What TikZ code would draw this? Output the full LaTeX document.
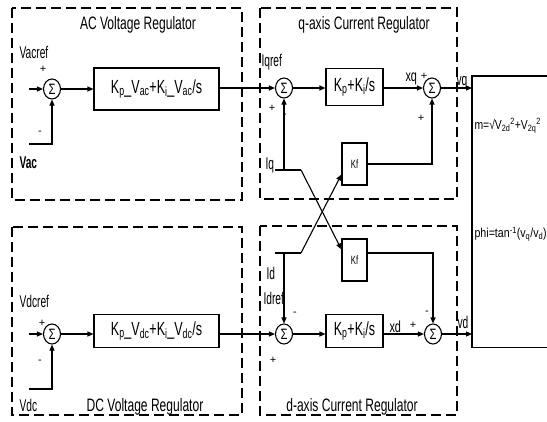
\documentclass[tikz,border=0pt]{standalone}
\usepackage{fontspec}
\usepackage{graphicx}
\setmainfont{Liberation Sans}
\usetikzlibrary{arrows.meta,calc,shapes.geometric}
\newcommand{\cnd}[2]{\scalebox{#1}[1]{#2}}
\begin{document}
\begin{tikzpicture}[x=1pt,y=-1pt,
  line width=1.1pt,
  arr/.style={-{Triangle[length=6pt,width=5pt]}},
  region/.style={draw,dash pattern=on 10pt off 5pt,line width=1.3pt},
  blk/.style={draw,rectangle,inner sep=0pt,font=\fontsize{19}{20}\selectfont},
  sumnode/.style={draw,ellipse,inner sep=0pt,minimum width=17pt,minimum height=20pt,font=\fontsize{15}{16}\selectfont},
  lbl/.style={inner sep=0pt,anchor=west,font=\fontsize{17}{18}\selectfont},
  sgn/.style={inner sep=0pt,font=\fontsize{11}{12}\selectfont},
  ttl/.style={inner sep=0pt,font=\fontsize{18}{19}\selectfont},
  kfbox/.style={draw,rectangle,inner sep=0pt,minimum width=25pt,minimum height=42pt,font=\fontsize{12}{13}\selectfont},
]
\useasboundingbox (0,0) rectangle (547,421);

% dashed regions
\draw[region] (12,8) rectangle (242,200);
\draw[region] (260,8) rectangle (457,199);
\draw[region] (12,227) rectangle (242,415);
\draw[region] (260,226) rectangle (457,415);

% titles
\node[ttl] (tac) at (138,25) {\cnd{0.67}{AC Voltage Regulator}};
\node[ttl] (tq) at (364,25) {\cnd{0.67}{q-axis Current Regulator}};
\node[ttl] (tdc) at (145,407) {\cnd{0.67}{DC Voltage Regulator}};
\node[ttl] (td) at (352,407) {\cnd{0.67}{d-axis Current Regulator}};

% blocks
\node[blk,minimum width=125pt,minimum height=42pt] (acpi) at (156.5,89)
  {\cnd{0.66}{K\textsubscript{p}\_V\textsubscript{ac}+K\textsubscript{i}\_V\textsubscript{ac}/s}};
\node[blk,minimum width=57pt,minimum height=37pt] (qpi) at (354.5,87)
  {\cnd{0.66}{K\textsubscript{p}+K\textsubscript{i}/s}};
\node[kfbox] (kfq) at (354.5,164) {\cnd{0.65}{Kf}};
\node[kfbox] (kfd) at (354.5,260) {\cnd{0.65}{Kf}};
\node[blk,minimum width=125pt,minimum height=33pt] (dcpi) at (156.5,331)
  {\cnd{0.66}{K\textsubscript{p}\_V\textsubscript{dc}+K\textsubscript{i}\_V\textsubscript{dc}/s}};
\node[blk,minimum width=57pt,minimum height=33pt] (dpi) at (354.5,331)
  {\cnd{0.66}{K\textsubscript{p}+K\textsubscript{i}/s}};

% summing junctions
\node[sumnode] (acs) at (52,89) {\cnd{0.75}{Σ}};
\node[sumnode] (qs1) at (284,88) {\cnd{0.75}{Σ}};
\node[sumnode] (qs2) at (432,88) {\cnd{0.75}{Σ}};
\node[sumnode] (dcs) at (52,334) {\cnd{0.75}{Σ}};
\node[sumnode] (ds1) at (284,334) {\cnd{0.75}{Σ}};
\node[sumnode] (ds2) at (433,334) {\cnd{0.75}{Σ}};

% converter box
\node[inner sep=0pt,minimum width=75pt,minimum height=270pt,anchor=north west] (conv) at (472,76) {};
\draw (conv.north east) -- (conv.north west) -- (conv.south west) -- (conv.south east);
\node[inner sep=0pt,anchor=west,font=\fontsize{13}{14}\selectfont] (mtxt) at (474,126)
  {\cnd{0.8}{m=√V\textsubscript{2d}\textsuperscript{2}+V\textsubscript{2q}\textsuperscript{2}}};
\node[inner sep=0pt,anchor=west,font=\fontsize{13}{14}\selectfont] (ptxt) at (474,234)
  {\cnd{0.82}{phi=tan\textsuperscript{-1}(v\textsubscript{q}/v\textsubscript{d})}};

% labels
\node[lbl] (lvacref) at (19,52) {\cnd{0.6}{Vacref}};
\node[sgn] (p1) at (43,69) {+};
\node[sgn] (m1) at (40,133) {-};
\node[lbl,font=\fontsize{17}{18}\selectfont\bfseries] (lvac) at (19,163) {\cnd{0.6}{Vac}};
\node[lbl] (liqref) at (261,62) {\cnd{0.6}{Iqref}};
\node[sgn] (p2) at (272,108) {+};
\node[sgn] (m2) at (285,116) {-};
\node[lbl] (liq) at (265,165) {\cnd{0.6}{Iq}};
\node[lbl,font=\fontsize{16}{17}\selectfont] (lxq) at (405,79) {\cnd{0.68}{xq}};
\node[sgn] (p3) at (424,76) {+};
\node[sgn] (p4) at (421,118) {+};
\node[lbl] (lvq) at (456,83) {\cnd{0.6}{vq}};

\node[lbl] (lvdcref) at (19,301) {\cnd{0.6}{Vdcref}};
\node[sgn] (p5) at (42,323) {+};
\node[sgn] (m5) at (40,362) {-};
\node[lbl] (lvdc) at (19,405) {\cnd{0.6}{Vdc}};
\node[lbl] (lid) at (266,273) {\cnd{0.6}{Id}};
\node[lbl] (lidref) at (263,298) {\cnd{0.6}{Idref}};
\node[sgn] (m6) at (295,314) {-};
\node[sgn] (p6) at (273,360) {+};
\node[lbl,font=\fontsize{16}{17}\selectfont] (lxd) at (389,327) {\cnd{0.68}{xd}};
\node[sgn] (p7) at (413,325) {+};
\node[sgn] (m7) at (427,313) {-};
\node[lbl] (lvd) at (457,322) {\cnd{0.6}{vd}};

% free ends
\coordinate (vacin) at (29,89);
\coordinate (vacfb) at (29,144);
\coordinate (vdcin) at (29,334);
\coordinate (vdcfb) at (29,389);
\coordinate (iqL) at (275,170);
\coordinate (iqK) at (301,170);
\coordinate (idL) at (275,253);
\coordinate (idK) at (301,253);

% AC regulator
\draw[arr] (vacin) -- (acs.west);
\draw[arr] (vacfb) -| (acs.south);
\draw[arr] (acs.east) -- (acpi.west |- acs);
\draw[arr] (acpi.east |- qs1) -- (qs1.west);
% q-axis
\draw[arr] (qs1.east) -- (qpi.west |- qs1);
\draw[arr] (qpi.east |- qs2) -- (qs2.west);
\draw[arr] (qs2.east) -- (conv.west |- qs2);
\draw[arr] (kfq.east) -| (qs2.south);
\draw (iqL) -- (iqK);
\draw[arr] (iqL -| qs1) -- (qs1.south);
\draw[arr] (iqK) -- ($(kfd.north west)+(0,11)$);
% DC regulator
\draw[arr] (vdcin) -- (dcs.west);
\draw[arr] (vdcfb) -| (dcs.south);
\draw[arr] (dcs.east) -- (dcpi.west |- dcs);
\draw[arr] (dcpi.east |- ds1) -- (ds1.west);
% d-axis
\draw[arr] (ds1.east) -- (dpi.west |- ds1);
\draw[arr] (dpi.east |- ds2) -- (ds2.west);
\draw[arr] (ds2.east) -- (conv.west |- ds2);
\draw[arr] ($(kfd.east)+(0,-7)$) -| (ds2.north);
\draw (idL) -- (idK);
\draw[arr] (idL -| ds1) -- (ds1.north);
\draw[arr] (idK) -- ($(kfq.north west)+(0,32)$);
\end{tikzpicture}
\end{document}
